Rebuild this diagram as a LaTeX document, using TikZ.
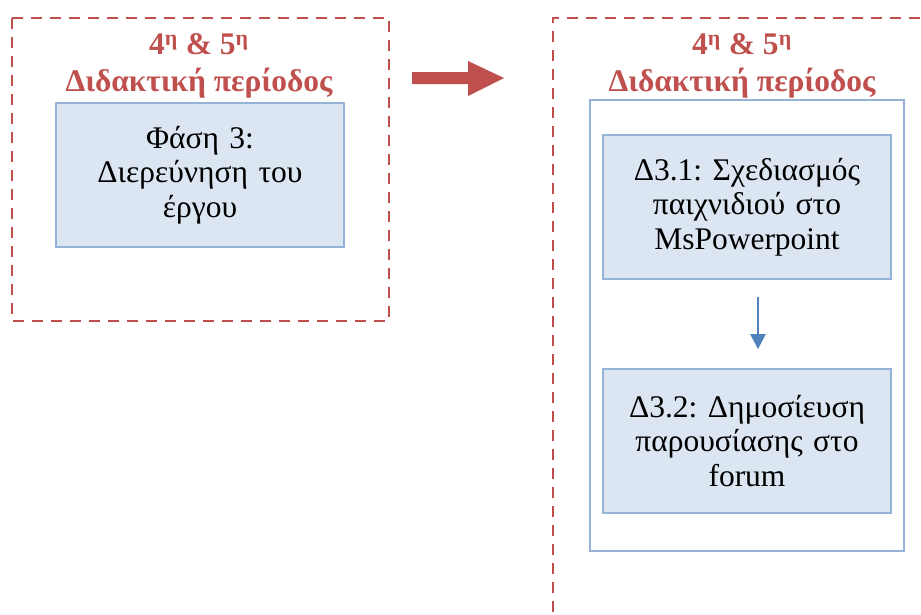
\documentclass[tikz,border=0pt]{standalone}
\usepackage{fontspec}
\setmainfont{Liberation Serif}
\usetikzlibrary{arrows.meta}
\definecolor{periodred}{HTML}{C0504D}
\definecolor{boxfill}{HTML}{DCE6F2}
\definecolor{boxline}{HTML}{95B3D7}
\definecolor{flowblue}{HTML}{4F81BD}
\frenchspacing
\begin{document}
\begin{tikzpicture}[x=1pt,y=-1pt,
  period/.style={draw=periodred,line width=2.8pt,dash pattern=on 11pt off 8pt},
  periodtitle/.style={text=periodred,font=\bfseries\fontsize{31.5}{37}\selectfont,align=center,inner sep=0pt},
  phasebox/.style={draw=boxline,fill=boxfill,line width=1.8pt,minimum width=288pt,minimum height=144pt,
    align=center,font=\fontsize{31.5}{34.5}\selectfont,inner sep=0pt,text width=284pt},
  frame/.style={draw=boxline,line width=1.8pt}]
\useasboundingbox (0,0) rectangle (921,614);
\clip (0,0) rectangle (921,614);
% left period frame
\draw[period] (12,18) rectangle (389,321);
\node[periodtitle] (t1) at (199,66) {4\textsuperscript{η} \& 5\textsuperscript{η}\\Διδακτική περίοδος};
\node[phasebox] (p3) at (200,175) {Φάση 3:\\Διερεύνηση του\\έργου};
% big transition arrow
\fill[periodred] (412,72) -- (468,72) -- (468,61) -- (504,78) -- (468,96) -- (468,84) -- (412,84) -- cycle;
% right period frame, running past the page edge
\draw[period] (553,650) -- (553,18) -- (960,18);
\node[periodtitle] (t2) at (742,66) {4\textsuperscript{η} \& 5\textsuperscript{η}\\Διδακτική περίοδος};
\draw[frame] (590,100) rectangle (904,551);
\node[phasebox] (d31) at (747,207) {Δ3.1: Σχεδιασμός\\παιχνιδιού στο\\MsPowerpoint};
\node[phasebox] (d32) at (747,441) {Δ3.2: Δημοσίευση\\παρουσίασης στο\\forum};
\draw[flowblue,line width=2.4pt,-{Triangle[length=15pt,width=15pt]}]
  ([xshift=11pt,yshift=-17pt]d31.south) -- ([xshift=11pt,yshift=19pt]d32.north);
\end{tikzpicture}
\end{document}
